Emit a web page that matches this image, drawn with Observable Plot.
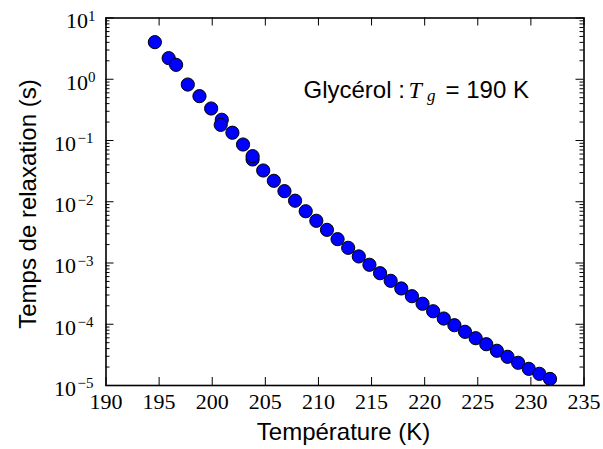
<!DOCTYPE html>
<html>
<head>
<meta charset="utf-8">
<script src="https://cdn.jsdelivr.net/npm/d3@7"></script>
<script src="https://cdn.jsdelivr.net/npm/@observablehq/plot@0.6"></script>
<style>
  html, body { margin: 0; padding: 0; background: #fff; }
  #chart svg { display: block; }
</style>
</head>
<body>
<div id="chart"></div>
<script>
// Data
const temperatures = [194.6, 195.9, 196.6, 197.7, 198.8, 199.9, 200.9, 200.8, 201.9, 202.9,
  203.8, 203.8, 204.8, 205.8, 206.8, 207.8, 208.8, 209.8, 210.8, 211.8,
  212.8, 213.8, 214.8, 215.8, 216.8, 217.8, 218.8, 219.8, 220.8, 221.8,
  222.8, 223.8, 224.8, 225.8, 226.8, 227.8, 228.8, 229.8, 230.8, 231.8];
const relaxTimes = [4.03, 2.21, 1.72, 0.82, 0.53, 0.333, 0.218, 0.180, 0.134, 0.086,
  0.049, 0.0555, 0.0324, 0.0220, 0.0149, 0.0104, 0.0070, 0.00489, 0.00348, 0.00245,
  0.00177, 0.00128, 0.000935, 0.000681, 0.000512, 0.000384, 0.000287, 0.000216, 0.000163, 0.000124,
  9.65e-5, 7.53e-5, 5.92e-5, 4.72e-5, 3.69e-5, 2.94e-5, 2.35e-5, 1.87e-5, 1.55e-5, 1.28e-5];

const xTicks = [190, 195, 200, 205, 210, 215, 220, 225, 230, 235];
const yTickExponents = [-5, -4, -3, -2, -1, 0, 1];
const yMinorMultipliers = [2, 3, 4, 5, 6, 7, 8, 9];

const xLabel = "Température (K)";
const yLabel = "Temps de relaxation (s)";
const annotationName = "Glycérol :";
const annotationSymbol = "T";
const annotationSub = "g";
const annotationValue = "= 190 K";

const data = temperatures.map((t, i) => ({T: t, tau: relaxTimes[i]}));
const yMajor = yTickExponents.map(e => 10 ** e);
const yMinor = yTickExponents.slice(0, -1).flatMap(e => yMinorMultipliers.map(m => m * 10 ** e));

const W = 603, H = 449;
const mL = 105.5, mR = 19.5, mT = 17.5, mB = 64;
const fw = W - mL - mR, fh = H - mT - mB;
const sans = "'Liberation Sans', Arial, Helvetica, sans-serif";
const serif = "'Liberation Serif', 'Times New Roman', serif";

const chart = Plot.plot({
  width: W, height: H,
  marginLeft: mL, marginRight: mR, marginTop: mT, marginBottom: mB,
  style: {background: "#fff", overflow: "visible"},
  x: {domain: [190, 235], axis: null},
  y: {type: "log", domain: [1e-5, 10], axis: null},
  marks: [
    // inward ticks: bottom & top
    Plot.tickX(xTicks, {x: d => d, insetTop: fh - 8, stroke: "black", strokeWidth: 1}),
    Plot.tickX(xTicks, {x: d => d, insetBottom: fh - 8, stroke: "black", strokeWidth: 1}),
    // inward ticks: left & right (major + minor)
    Plot.tickY(yMajor, {y: d => d, insetRight: fw - 8, stroke: "black", strokeWidth: 1}),
    Plot.tickY(yMajor, {y: d => d, insetLeft: fw - 8, stroke: "black", strokeWidth: 1}),
    Plot.tickY(yMinor, {y: d => d, insetRight: fw - 4, stroke: "black", strokeWidth: 1}),
    Plot.tickY(yMinor, {y: d => d, insetLeft: fw - 4, stroke: "black", strokeWidth: 1}),
    // x tick labels
    Plot.axisX({ticks: xTicks, tickSize: 0, tickPadding: 8, tickFormat: d => String(d),
      label: null, fontSize: 22, fontFamily: serif, fill: "black"}),
    // y tick labels 10^n
    Plot.text(yTickExponents.filter(e => e < 0), {y: e => 10 ** e, text: () => "10",
      frameAnchor: "left", textAnchor: "end", dx: -30, dy: 3.3,
      fontSize: 22, fontFamily: serif, fill: "black"}),
    Plot.text(yTickExponents.filter(e => e >= 0), {y: e => 10 ** e, text: () => "10",
      frameAnchor: "left", textAnchor: "end", dx: -18, dy: 3.3,
      fontSize: 22, fontFamily: serif, fill: "black"}),
    Plot.text(yTickExponents.filter(e => e < 0), {y: e => 10 ** e, text: e => "\u2212" + (-e),
      frameAnchor: "left", textAnchor: "start", dx: -28.5, dy: -2,
      fontSize: 15, fontFamily: serif, fill: "black"}),
    Plot.text(yTickExponents.filter(e => e >= 0), {y: e => 10 ** e, text: e => String(e),
      frameAnchor: "left", textAnchor: "start", dx: -18, dy: -2,
      fontSize: 15, fontFamily: serif, fill: "black"}),
    // axis titles
    Plot.text([xLabel], {text: d => d, frameAnchor: "bottom", lineAnchor: "bottom",
      textAnchor: "middle", dx: -1.5, dy: 54, fontSize: 24, fontFamily: sans, fill: "black"}),
    Plot.text([yLabel], {text: d => d, frameAnchor: "left", lineAnchor: "bottom",
      textAnchor: "middle", rotate: -90, dx: -70.5, dy: 2.3, fontSize: 24, fontFamily: sans, fill: "black"}),
    // data points
    Plot.dot(data, {x: "T", y: "tau", r: 6.6, fill: "#0000ff", stroke: "black", strokeWidth: 1}),
    // annotation
    Plot.text([annotationName], {text: d => d, frameAnchor: "top-left", lineAnchor: "bottom",
      textAnchor: "start", dx: 197.5, dy: 79.5, fontSize: 24, fontFamily: sans, fill: "black"}),
    Plot.text([annotationSymbol], {text: d => d, frameAnchor: "top-left", lineAnchor: "bottom",
      textAnchor: "start", dx: 302.5, dy: 79.5, fontSize: 24, fontFamily: serif, fontStyle: "italic", fill: "black"}),
    Plot.text([annotationSub], {text: d => d, frameAnchor: "top-left", lineAnchor: "bottom",
      textAnchor: "start", dx: 321, dy: 83, fontSize: 17, fontFamily: serif, fontStyle: "italic", fill: "black"}),
    Plot.text([annotationValue], {text: d => d, frameAnchor: "top-left", lineAnchor: "bottom",
      textAnchor: "start", dx: 339.5, dy: 79.5, fontSize: 24, fontFamily: sans, fill: "black"}),
    // frame
    Plot.frame({stroke: "black", strokeWidth: 1.6})
  ]
});
document.getElementById("chart").appendChild(chart);
</script>
</body>
</html>
